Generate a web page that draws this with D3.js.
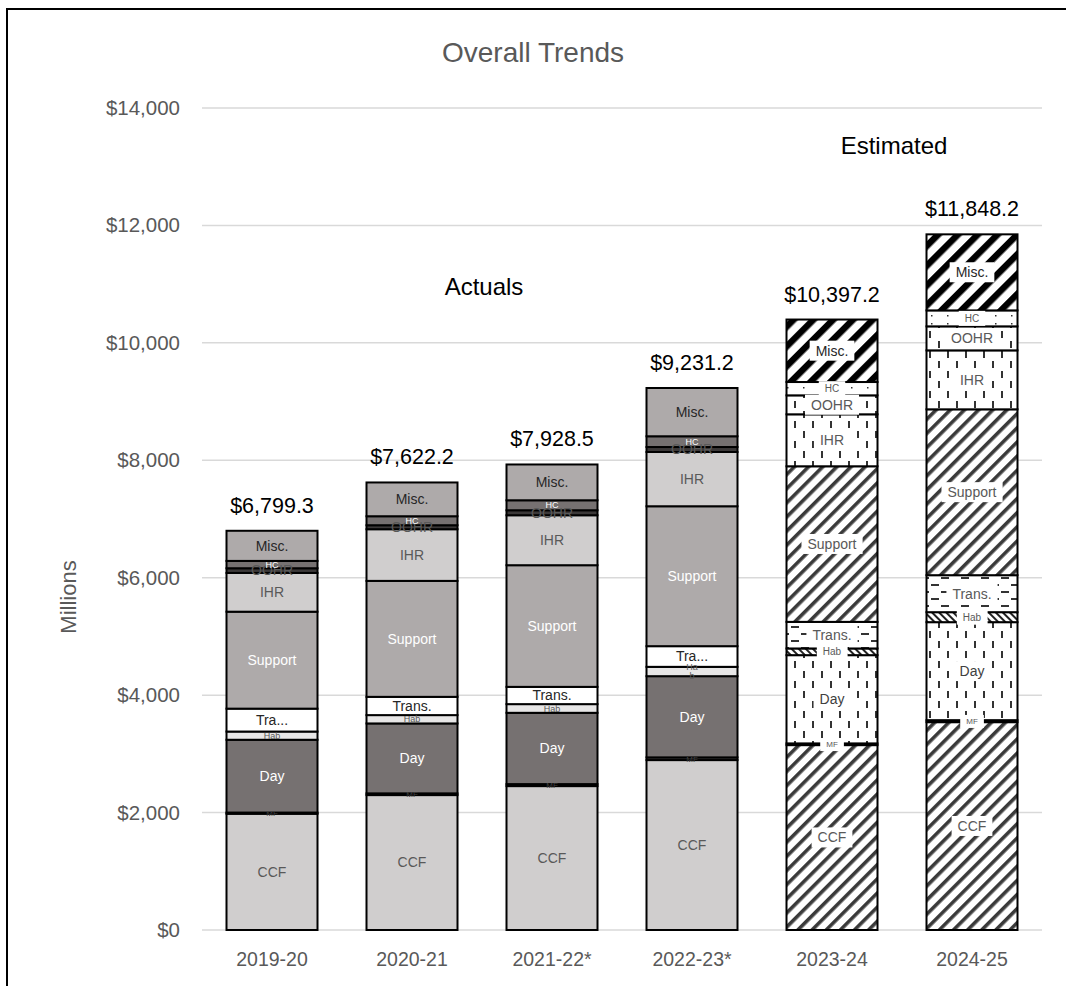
<!DOCTYPE html>
<html><head><meta charset="utf-8">
<script src="https://cdn.jsdelivr.net/npm/d3@7"></script>
<style>
html,body{margin:0;padding:0;background:#fff;}
svg{display:block;font-family:"Liberation Sans",Arial,sans-serif;}
</style></head><body>
<svg id="chart" width="1066" height="986"></svg>
<script>
// Fiscal years and spending components (millions of dollars)
const years = ["2019-20", "2020-21", "2021-22*", "2022-23*", "2023-24", "2024-25"];
const series = ["CCF", "MF", "Day", "Hab", "Trans.", "Support", "IHR", "OOHR", "HC", "Misc."];
const ccf     = [1980, 2298, 2451, 2894, 3149, 3540];
const mf      = [20, 29, 34, 46, 29, 34];
const day     = [1240, 1191, 1214, 1383, 1503, 1669];
const hab     = [140, 142, 148, 159, 114, 170];
const trans   = [390, 311, 294, 352, 453, 630];
const support = [1651.3, 1975, 2072, 2383, 2650, 2825];
const ihr     = [660, 880, 851, 924, 885, 1004];
const oohr    = [80, 68, 85, 85, 323, 409];
const hc      = [125, 153, 170, 183, 227, 272];
const misc    = [513, 575.2, 609.5, 822.2, 1064.2, 1295.2];
const totals  = [6799.3, 7622.2, 7928.5, 9231.2, 10397.2, 11848.2];
const estimatedYears = ["2023-24", "2024-25"];
const yTicks = [0, 2000, 4000, 6000, 8000, 10000, 12000, 14000];
// Labels that Excel shortened to fit their segment
const shortLabels = [
  { year: "2019-20", key: "Trans.", text: ["Tra..."] },
  { year: "2022-23*", key: "Trans.", text: ["Tra..."] },
  { year: "2022-23*", key: "Hab", text: ["Ha", "b"] }
];

const values = { "CCF": ccf, "MF": mf, "Day": day, "Hab": hab, "Trans.": trans, "Support": support,
  "IHR": ihr, "OOHR": oohr, "HC": hc, "Misc.": misc };
const rows = years.map((y, i) => {
  const r = { year: y };
  series.forEach(k => r[k] = values[k][i]);
  return r;
});

const svg = d3.select("#chart");
const W = 1066, H = 986;
const plot = { left: 202, right: 1042, top: 108, bottom: 930 };

svg.append("rect").attr("x", 0).attr("y", 0).attr("width", W).attr("height", H).attr("fill", "#fff");
svg.append("rect").attr("x", 7).attr("y", 9).attr("width", W + 20).attr("height", H + 20)
  .attr("fill", "none").attr("stroke", "#000").attr("stroke-width", 2);

const x = d3.scaleBand().domain(years).range([plot.left, plot.right]).paddingInner(0.35).paddingOuter(0.175);
const y = d3.scaleLinear().domain([0, 14000]).range([plot.bottom, plot.top]);

// ---- patterns for the estimated bars ----
const defs = svg.append("defs");
function stripes(id, size, width, color) {
  const p = defs.append("pattern").attr("id", id).attr("patternUnits", "userSpaceOnUse")
    .attr("width", size).attr("height", size).attr("patternTransform", "rotate(45)");
  p.append("rect").attr("width", size).attr("height", size).attr("fill", "#fff");
  p.append("rect").attr("x", 0).attr("y", 0).attr("width", width).attr("height", size).attr("fill", color);
}
stripes("pWide", 10, 3.6, "#3a3a3a");
stripes("pBold", 14, 6.5, "#000");
(function () {
  const p = defs.append("pattern").attr("id", "pNarrowDown").attr("patternUnits", "userSpaceOnUse")
    .attr("width", 5).attr("height", 5).attr("patternTransform", "rotate(-45)");
  p.append("rect").attr("width", 5).attr("height", 5).attr("fill", "#fff");
  p.append("rect").attr("width", 2).attr("height", 5).attr("fill", "#222");
})();
(function () {
  const p = defs.append("pattern").attr("id", "pDashV").attr("patternUnits", "userSpaceOnUse")
    .attr("width", 18).attr("height", 20);
  p.append("rect").attr("width", 18).attr("height", 20).attr("fill", "#fff");
  p.append("rect").attr("x", 2).attr("y", 1).attr("width", 2).attr("height", 7).attr("fill", "#333");
  p.append("rect").attr("x", 11).attr("y", 11).attr("width", 2).attr("height", 7).attr("fill", "#333");
})();
(function () {
  const p = defs.append("pattern").attr("id", "pDashH").attr("patternUnits", "userSpaceOnUse")
    .attr("width", 20).attr("height", 14);
  p.append("rect").attr("width", 20).attr("height", 14).attr("fill", "#fff");
  p.append("rect").attr("x", 1).attr("y", 3).attr("width", 8).attr("height", 2).attr("fill", "#333");
  p.append("rect").attr("x", 11).attr("y", 10).attr("width", 8).attr("height", 2).attr("fill", "#333");
})();
(function () {
  const p = defs.append("pattern").attr("id", "pDots").attr("patternUnits", "userSpaceOnUse")
    .attr("width", 16).attr("height", 8);
  p.append("rect").attr("width", 16).attr("height", 8).attr("fill", "#fff");
  p.append("rect").attr("x", 3).attr("y", 3).attr("width", 1.5).attr("height", 1.5).attr("fill", "#333");
})();
(function () {
  const p = defs.append("pattern").attr("id", "pVert").attr("patternUnits", "userSpaceOnUse")
    .attr("width", 18).attr("height", 8);
  p.append("rect").attr("width", 18).attr("height", 8).attr("fill", "#fff");
  p.append("rect").attr("x", 8).attr("y", 0).attr("width", 1.5).attr("height", 8).attr("fill", "#333");
})();

const solidFill = { "CCF": "#d0cece", "MF": "#4a4747", "Day": "#767171", "Hab": "#e7e6e6", "Trans.": "#ffffff",
  "Support": "#aeaaaa", "IHR": "#d0cece", "OOHR": "#3b3838", "HC": "#767171", "Misc.": "#aeaaaa" };
const patternFill = { "CCF": "url(#pWide)", "MF": "url(#pVert)", "Day": "url(#pDashV)", "Hab": "url(#pNarrowDown)",
  "Trans.": "url(#pDashH)", "Support": "url(#pWide)", "IHR": "url(#pDashV)", "OOHR": "url(#pDashV)",
  "HC": "url(#pDots)", "Misc.": "url(#pBold)" };
const labelColor = { "CCF": "#595959", "MF": "#404040", "Day": "#ffffff", "Hab": "#595959", "Trans.": "#262626",
  "Support": "#ffffff", "IHR": "#595959", "OOHR": "#595959", "HC": "#ffffff", "Misc.": "#262626" };
const labelSize = { "CCF": 14, "MF": 8, "Day": 14, "Hab": 9, "Trans.": 14, "Support": 14, "IHR": 14,
  "OOHR": 14, "HC": 9, "Misc.": 14 };

// ---- gridlines and axes ----
svg.append("g").selectAll("line").data(yTicks).join("line")
  .attr("x1", plot.left).attr("x2", plot.right)
  .attr("y1", d => y(d)).attr("y2", d => y(d))
  .attr("stroke", "#d9d9d9").attr("stroke-width", 1.5);

const yAxis = svg.append("g").attr("transform", `translate(${plot.left},0)`)
  .call(d3.axisLeft(y).tickValues(yTicks).tickSize(0).tickPadding(22).tickFormat(d => "$" + d3.format(",")(d)));
yAxis.select(".domain").remove();
yAxis.selectAll("text").attr("fill", "#595959").attr("font-size", 20.5)
  .attr("font-family", "Liberation Sans, Arial, sans-serif");

const xAxis = svg.append("g").attr("transform", `translate(0,${plot.bottom})`)
  .call(d3.axisBottom(x).tickSize(0).tickPadding(22));
xAxis.select(".domain").remove();
xAxis.selectAll("text").attr("fill", "#595959").attr("font-size", 19.5)
  .attr("font-family", "Liberation Sans, Arial, sans-serif");

// ---- stacked bars ----
const stacked = d3.stack().keys(series)(rows);
const isEst = yr => estimatedYears.includes(yr);

const layers = svg.append("g").selectAll("g").data(stacked).join("g");
layers.selectAll("rect").data(L => L.map(d => ({ key: L.key, d }))).join("rect")
  .attr("x", o => x(o.d.data.year))
  .attr("width", x.bandwidth())
  .attr("y", o => y(o.d[1]))
  .attr("height", o => y(o.d[0]) - y(o.d[1]))
  .attr("fill", o => isEst(o.d.data.year) ? patternFill[o.key] : solidFill[o.key])
  .attr("stroke", "#000").attr("stroke-width", 2);

// ---- segment labels ----
const lab = svg.append("g");
stacked.forEach(L => {
  L.forEach(d => {
    const yr = d.data.year;
    const cx = x(yr) + x.bandwidth() / 2;
    const cy = (y(d[0]) + y(d[1])) / 2;
    const sl = shortLabels.find(s => s.year === yr && s.key === L.key);
    const lines = sl ? sl.text : [L.key];
    const est = isEst(yr);
    const fs = labelSize[L.key] + (est && (L.key === "Hab" || L.key === "HC") ? 1 : 0);
    const g = lab.append("g");
    const t = g.append("text").attr("text-anchor", "middle")
      .attr("font-size", fs)
      .attr("fill", est ? (L.key === "Misc." ? "#262626" : (L.key === "Day" ? "#404040" : "#595959")) : labelColor[L.key]);
    const lh = fs * 1.05;
    lines.forEach((s, i) => {
      t.append("tspan").attr("x", cx)
        .attr("y", cy + (i - (lines.length - 1) / 2) * lh + fs * 0.35).text(s);
    });
    if (est) {
      const b = t.node().getBBox();
      g.insert("rect", "text").attr("x", b.x - 6).attr("y", b.y - 2)
        .attr("width", b.width + 12).attr("height", b.height + 4).attr("fill", "#fff");
    }
  });
});

// ---- totals above bars ----
svg.append("g").selectAll("text").data(years).join("text")
  .attr("x", d => x(d) + x.bandwidth() / 2)
  .attr("y", (d, i) => y(totals[i]) - 18)
  .attr("text-anchor", "middle").attr("font-size", 21.5).attr("fill", "#000")
  .text((d, i) => "$" + d3.format(",.1f")(totals[i]));

// ---- titles and annotations ----
svg.append("text").attr("x", 533).attr("y", 62).attr("text-anchor", "middle")
  .attr("font-size", 28).attr("fill", "#595959").text("Overall Trends");
svg.append("text").attr("transform", "translate(76,597) rotate(-90)").attr("text-anchor", "middle")
  .attr("font-size", 22).attr("fill", "#595959").text("Millions");
svg.append("text").attr("x", 484).attr("y", 295).attr("text-anchor", "middle")
  .attr("font-size", 24).attr("fill", "#000").text("Actuals");
svg.append("text").attr("x", 894).attr("y", 154).attr("text-anchor", "middle")
  .attr("font-size", 24).attr("fill", "#000").text("Estimated");
</script>
</body></html>
